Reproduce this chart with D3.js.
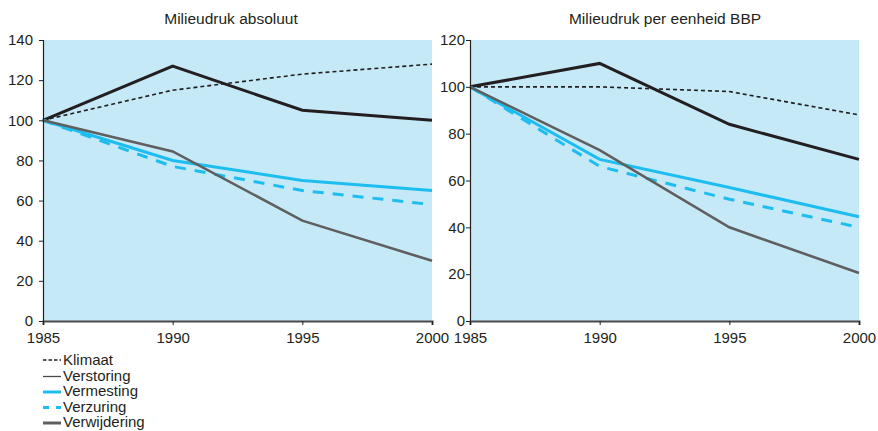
<!DOCTYPE html>
<html><head><meta charset="utf-8">
<script src="https://cdn.jsdelivr.net/npm/d3@7"></script>
<style>
html,body{margin:0;padding:0;background:#fff;}
text{font-family:"Liberation Sans",Arial,sans-serif;fill:#231f20;}
</style></head>
<body>
<svg id="c" width="878" height="431"></svg>
<script>
const years = [1985, 1990, 1995, 2000];
const seriesNames = ["Klimaat", "Verstoring", "Vermesting", "Verzuring", "Verwijdering"];
// Milieudruk absoluut
const absKlimaat      = [100, 115, 123, 128];
const absVerstoring   = [100, 127, 105, 100];
const absVermesting   = [100, 80, 70, 65];
const absVerzuring    = [100, 77, 65, 58];
const absVerwijdering = [100, 84.5, 50, 30];
// Milieudruk per eenheid BBP
const bbpKlimaat      = [100, 100, 98, 88];
const bbpVerstoring   = [100, 110, 84, 69];
const bbpVermesting   = [100, 69, 57, 44.5];
const bbpVerzuring    = [100, 66, 52, 40];
const bbpVerwijdering = [100, 73, 40, 20.5];
const absTicks = [0, 20, 40, 60, 80, 100, 120, 140];
const bbpTicks = [0, 20, 40, 60, 80, 100, 120];
const titles = ["Milieudruk absoluut", "Milieudruk per eenheid BBP"];

const styles = {
  Klimaat:      {color:"#231f20", width:1.6, dash:"4,3"},
  Verstoring:   {color:"#231f20", width:3,   dash:null},
  Vermesting:   {color:"#1dbdf0", width:3,   dash:null},
  Verzuring:    {color:"#1dbdf0", width:3,   dash:"11,9"},
  Verwijdering: {color:"#5f5f5f", width:2.6, dash:null}
};

const svg = d3.select("#c");

function panel(cfg){
  const g = svg.append("g");
  const x = d3.scaleLinear().domain([1985,2000]).range([cfg.x0, cfg.x1]);
  const y = d3.scaleLinear().domain([0, cfg.ymax]).range([cfg.y1, cfg.y0]);
  g.append("rect").attr("x",cfg.x0).attr("y",cfg.y0)
    .attr("width",cfg.x1-cfg.x0).attr("height",cfg.y1-cfg.y0).attr("fill","#c6e9f8");
  const line = d3.line().x((d,i)=>x(years[i])).y(d=>y(d));
  cfg.data.forEach((vals,k)=>{
    const s = styles[seriesNames[k]];
    g.append("path").datum(vals).attr("d",line).attr("fill","none")
      .attr("stroke",s.color).attr("stroke-width",s.width)
      .attr("stroke-dasharray",s.dash).attr("stroke-linejoin","miter");
  });
  // y axis
  const ya = g.append("g").attr("transform",`translate(${cfg.x0},0)`)
    .call(d3.axisLeft(y).tickValues(cfg.ticks).tickSize(4).tickPadding(cfg.pad).tickFormat(d3.format("d")));
  ya.select(".domain").attr("stroke","#231f20").attr("stroke-width",1.2);
  ya.selectAll(".tick line").attr("stroke","#231f20");
  ya.selectAll("text").style("font-size","15px").attr("fill","#231f20");
  // x axis
  const xa = g.append("g").attr("transform",`translate(0,${cfg.y1})`)
    .call(d3.axisBottom(x).tickValues(years).tickSize(4).tickPadding(7).tickFormat(d3.format("d")));
  xa.select(".domain").attr("stroke","#4a4a4a").attr("stroke-width",2);
  xa.selectAll(".tick line").attr("stroke","#231f20");
  xa.selectAll("text").style("font-size","15px").attr("fill","#231f20");
  g.append("text").attr("x",cfg.tx).attr("y",24).attr("text-anchor","middle")
    .style("font-size","15.5px").text(cfg.title);
}

panel({x0:43, x1:432, y0:40, y1:321, ymax:140, ticks:absTicks, pad:6, title:titles[0], tx:231,
  data:[absKlimaat,absVerstoring,absVermesting,absVerzuring,absVerwijdering]});
panel({x0:470, x1:859, y0:40, y1:321, ymax:120, ticks:bbpTicks, pad:1, title:titles[1], tx:665,
  data:[bbpKlimaat,bbpVerstoring,bbpVermesting,bbpVerzuring,bbpVerwijdering]});

// legend
const legStyles = [
  {color:"#231f20", width:1.6, dash:"3.5,2"},
  {color:"#4a4a4a", width:1.3, dash:null},
  {color:"#1dbdf0", width:3, dash:null},
  {color:"#1dbdf0", width:3, dash:"6,7"},
  {color:"#5f5f5f", width:3, dash:null}
];
const leg = svg.append("g");
seriesNames.forEach((n,i)=>{
  const yy = 360 + i*15.5;
  const s = legStyles[i];
  leg.append("line").attr("x1",43).attr("x2",61).attr("y1",yy+ (i===0?0:1)).attr("y2",yy+(i===0?0:1))
    .attr("stroke",s.color).attr("stroke-width",s.width).attr("stroke-dasharray",s.dash);
  leg.append("text").attr("x",63).attr("y",yy+5).style("font-size","15px").text(n);
});
</script>
</body></html>
